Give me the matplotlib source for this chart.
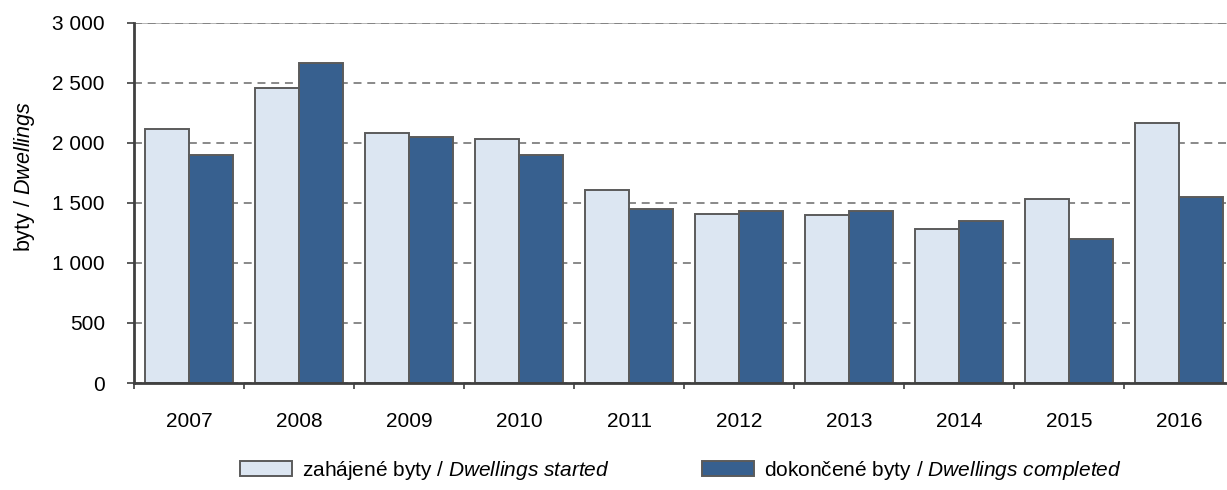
import matplotlib
matplotlib.use("Agg")
import matplotlib.pyplot as plt
import numpy as np
from matplotlib.ticker import FuncFormatter, FixedLocator

plt.rcParams['font.family'] = ['Liberation Sans', 'DejaVu Sans']
plt.rcParams['mathtext.fontset'] = 'custom'
plt.rcParams['mathtext.rm'] = 'Liberation Sans'
plt.rcParams['mathtext.it'] = 'Liberation Sans:italic'

years = ['2007', '2008', '2009', '2010', '2011', '2012', '2013', '2014', '2015', '2016']
started = [2115, 2460, 2080, 2030, 1612, 1412, 1400, 1286, 1532, 2165]
completed = [1900, 2665, 2046, 1900, 1450, 1432, 1435, 1352, 1203, 1550]
y_ticks = [0, 500, 1000, 1500, 2000, 2500, 3000]

label_started = r'zahájené byty / $\it{Dwellings\ started}$'
label_completed = r'dokončené byty / $\it{Dwellings\ completed}$'

light = '#dce6f2'
dark = '#37608f'
edge = '#5b5b5b'
fs = 15

fig = plt.figure(figsize=(12.27, 4.9), dpi=100)
W, H = 1227, 490
ax = fig.add_axes([134 / W, (H - 383) / H, 1100 / W, 360 / H])

x = np.arange(len(years))
bw = 0.4
b1 = ax.bar(x - bw / 2, started, width=bw, color=light, edgecolor=edge,
            linewidth=1.4, label=label_started, zorder=3)
b2 = ax.bar(x + bw / 2, completed, width=bw, color=dark, edgecolor=edge,
            linewidth=1.4, label=label_completed, zorder=3)

ax.set_xlim(-0.5, len(years) - 0.5)
ax.set_ylim(0, 3000)

# horizontal dashed grid
ax.set_yticks(y_ticks)
ax.yaxis.set_major_formatter(FuncFormatter(lambda v, p: f'{int(v):,}'.replace(',', ' ')))
ax.grid(axis='y', color='#808080', linestyle=(0, (4.4, 3.2)), linewidth=1.3, zorder=1)
ax.axhline(3000, color='#b0b0b0', linewidth=1.3, zorder=1)

# category boundaries as ticks, year labels between them
ax.xaxis.set_major_locator(FixedLocator(np.arange(-0.5, len(years), 1.0)))
ax.xaxis.set_major_formatter(FuncFormatter(lambda v, p: ''))
ax.xaxis.set_minor_locator(FixedLocator(x))
ax.set_xticklabels(years, minor=True)
ax.tick_params(axis='x', which='major', direction='out', length=4.5, width=1.2, color='#404040')
ax.tick_params(axis='x', which='minor', length=0, pad=21, labelsize=fs)
ax.tick_params(axis='y', direction='out', length=5, width=1.2, color='#404040',
               pad=16, labelsize=fs)

for s in ['top', 'right']:
    ax.spines[s].set_visible(False)
for s in ['left', 'bottom']:
    ax.spines[s].set_color('#404040')
    ax.spines[s].set_linewidth(2)
    ax.spines[s].set_zorder(4)

fig.text(25 / W, 1 - 177 / H, r'byty / $\it{Dwellings}$', rotation=90,
         ha='center', va='center', fontsize=15.5)

fig.legend(handles=[b1, b2], labels=[label_started, label_completed],
           loc='center', bbox_to_anchor=(0.555, 1 - 470 / H), ncol=2,
           frameon=False, fontsize=fs, handlelength=2.5, handleheight=0.7,
           columnspacing=4.4, handletextpad=0.5)

fig.savefig('out.png', dpi=100)
